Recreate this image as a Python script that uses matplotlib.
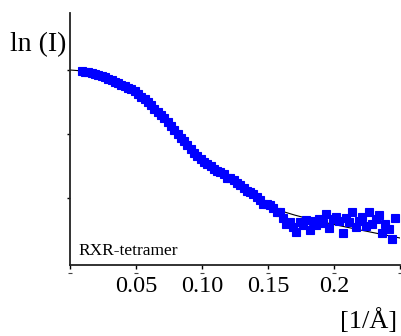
import numpy as np
import matplotlib
matplotlib.use("Agg")
import matplotlib.pyplot as plt
import matplotlib.transforms as mtransforms

# Scattering vector grid (1/Å) and measured ln(I) (arbitrary offset)
q_start, q_step, n_points = 0.009, 0.0025, 96
ln_I = [
    2.292, 2.284, 2.276, 2.268, 2.260, 2.251, 2.239, 2.226, 2.212, 2.198,
    2.185, 2.170, 2.154, 2.139, 2.123, 2.108, 2.086, 2.059, 2.033, 2.006,
    1.979, 1.948, 1.915, 1.882, 1.849, 1.816, 1.780, 1.741, 1.702, 1.664,
    1.625, 1.586, 1.549, 1.512, 1.475, 1.438, 1.408, 1.384, 1.361, 1.337,
    1.315, 1.295, 1.276, 1.257, 1.225, 1.217, 1.205, 1.170, 1.147, 1.124,
    1.090, 1.076, 1.065, 1.026, 1.002, 0.965, 0.958, 0.950, 0.919, 0.885,
    0.880, 0.82, 0.76, 0.78, 0.73, 0.68, 0.78, 0.75, 0.80, 0.70,
    0.79, 0.75, 0.81, 0.77, 0.86, 0.72, 0.81, 0.83, 0.79, 0.67,
    0.82, 0.78, 0.88, 0.73, 0.79, 0.83, 0.74, 0.88, 0.76, 0.81,
    0.85, 0.67, 0.76, 0.71, 0.61, 0.82,
]

# Fitted model curve
fit_q = [0.00, 0.01, 0.02, 0.03, 0.04, 0.05, 0.06, 0.07, 0.08, 0.09,
         0.10, 0.11, 0.12, 0.13, 0.14, 0.15, 0.16, 0.17, 0.18, 0.19,
         0.20, 0.21, 0.22, 0.23, 0.24, 0.25]
fit_ln_I = [2.300, 2.290, 2.258, 2.207, 2.149, 2.076, 1.968, 1.836, 1.687, 1.535,
            1.399, 1.307, 1.227, 1.137, 1.042, 0.950, 0.890, 0.850, 0.815, 0.785,
            0.755, 0.727, 0.700, 0.673, 0.647, 0.620]

x_ticks = [0.0, 0.05, 0.10, 0.15, 0.20, 0.25]
x_tick_labels = ["", "0.05", "0.10", "0.15", "0.2", ""]
y_ticks = [2.30, 1.66, 1.02]
sample_label = "RXR-tetramer"
x_label = "[1/Å]"
y_label = "ln (I)"

q = np.linspace(q_start, q_start + q_step * (n_points - 1), n_points)

plt.rcParams['font.family'] = ['Liberation Serif', 'DejaVu Serif']

fig = plt.figure(figsize=(4.02, 3.36), dpi=100)
ax = fig.add_axes([70/402, 1 - 265/336, 330/402, 252/336])

ax.plot(fit_q, fit_ln_I, color='black', lw=0.8, zorder=2)
ax.plot(q, ln_I, ls='none', marker='s', ms=5.2, color='#0000ff',
        mec='#0000ff', mew=0.8, zorder=3)

ax.set_xlim(0, 0.25)
ax.set_ylim(0.35, 2.87)

for s in ['top', 'right']:
    ax.spines[s].set_visible(False)
for s in ['left', 'bottom']:
    ax.spines[s].set_linewidth(1.3)
    ax.spines[s].set_color('#222222')

ax.set_xticks(x_ticks)
ax.set_xticklabels(x_tick_labels)
ax.set_yticks(y_ticks)
ax.set_yticklabels([])
ax.tick_params(axis='x', direction='out', length=3, width=1, labelsize=17.5, pad=5)
ax.tick_params(axis='y', direction='out', length=2, width=1)

# small dash marks above tick labels
trans = mtransforms.blended_transform_factory(ax.transData, ax.transAxes)
ax.plot(x_ticks, [-0.03] * len(x_ticks), ls='none', marker='_', ms=2.5,
        mew=0.8, color='#444444', transform=trans, clip_on=False)

ax.text(0.025, 0.04, sample_label, transform=ax.transAxes, fontsize=12.5,
        ha='left', va='baseline')

fig.text(397/402, 1 - 328/336, x_label, fontsize=19, ha='right', va='baseline')
fig.text(66/402, 1 - 51/336, y_label, fontsize=20, ha='right', va='baseline')

fig.savefig('out.png', dpi=100)
